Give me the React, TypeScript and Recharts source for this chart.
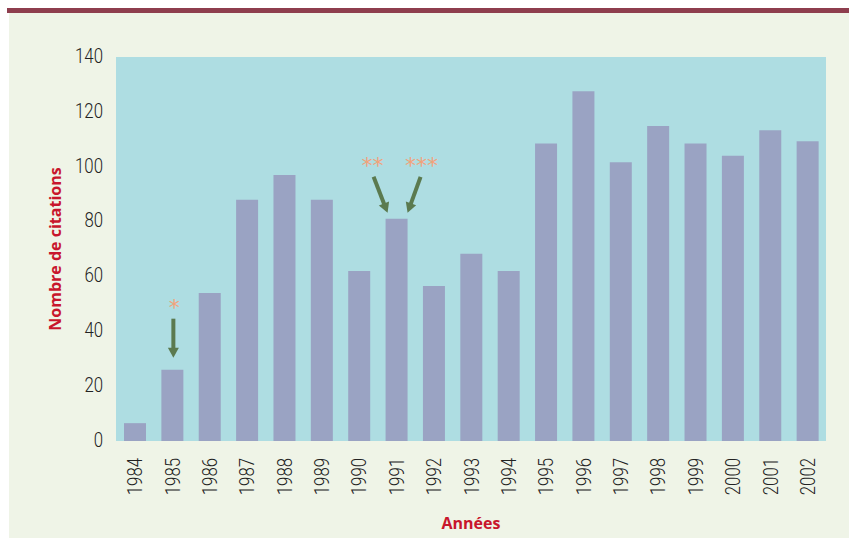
import { BarChart, Bar, XAxis, YAxis, CartesianGrid, LabelList } from "recharts";

const YEARS = [
  "1984", "1985", "1986", "1987", "1988", "1989", "1990", "1991", "1992", "1993",
  "1994", "1995", "1996", "1997", "1998", "1999", "2000", "2001", "2002",
];
const CITATIONS = [
  6.5, 26, 54, 88, 97, 88, 62, 81, 56.5, 68.3,
  62, 108.5, 127.5, 101.6, 114.8, 108.5, 104, 113.3, 109.3,
];
const Y_TICKS = [0, 20, 40, 60, 80, 100, 120, 140];

// annotated years: star marks with arrows pointing at the bar
const NOTES = [
  { year: "1985", stars: ["*"] },
  { year: "1991", stars: ["**", "***"] },
];

const data = YEARS.map((year, i) => ({ year, value: CITATIONS[i] }));

const BG = "#eff4e7";
const PLOT = "#aedde2";
const BAR = "#9aa3c3";
const RED = "#c8162c";
const GREEN = "#5b7a4f";
const STAR = "#f2a27a";
const TICK_FONT = "Roboto, sans-serif";

function Arrow({ x1, y1, x2, y2 }: { x1: number; y1: number; x2: number; y2: number }) {
  const len = Math.hypot(x2 - x1, y2 - y1);
  const ux = (x2 - x1) / len;
  const uy = (y2 - y1) / len;
  const head = 10;
  const half = 5.5;
  const bx = x2 - ux * head;
  const by = y2 - uy * head;
  const pts = [
    [x2, y2],
    [bx - uy * half, by + ux * half],
    [bx + uy * half, by - ux * half],
  ].map((p) => p.join(",")).join(" ");
  return (
    <g>
      <line x1={x1} y1={y1} x2={bx + ux} y2={by + uy} stroke={GREEN} strokeWidth={4} />
      <polygon points={pts} fill={GREEN} />
    </g>
  );
}

function NoteMark(props: any) {
  const { x, y, width, value } = props;
  const note = NOTES.find((n) => n.year === value);
  if (!note) return null;
  const cx = Number(x) + Number(width) / 2;
  const top = Number(y);
  const starStyle = { fill: STAR, fontSize: 22, fontFamily: "DejaVu Sans" };
  if (note.stars.length === 1) {
    return (
      <g>
        <text x={cx + 2} y={top - 55} textAnchor="middle" style={starStyle}>{note.stars[0]}</text>
        <Arrow x1={cx + 1} y1={top - 51} x2={cx + 1} y2={top - 12} />
      </g>
    );
  }
  return (
    <g>
      <text x={cx - 24} y={top - 46} textAnchor="middle" style={starStyle}>{note.stars[0]}</text>
      <text x={cx + 25} y={top - 46} textAnchor="middle" style={starStyle}>{note.stars[1]}</text>
      <Arrow x1={cx - 23} y1={top - 42} x2={cx - 9} y2={top - 6} />
      <Arrow x1={cx + 24} y1={top - 42} x2={cx + 11} y2={top - 6} />
    </g>
  );
}

// condensed look: light Roboto squeezed horizontally
function YearTick(props: any) {
  const { x, payload } = props;
  return (
    <g transform={`translate(${x},458)`}>
      <text transform="rotate(-90) scale(0.8,1)" textAnchor="end" dy="0.36em" fill="#222" fontSize={21} fontWeight={300} fontFamily={TICK_FONT}>
        {payload.value}
      </text>
    </g>
  );
}

function CountTick(props: any) {
  const { y, payload } = props;
  return (
    <g transform={`translate(103,${y})`}>
      <text transform="scale(0.8,1)" textAnchor="end" dy="0.28em" fill="#222" fontSize={21} fontWeight={300} fontFamily={TICK_FONT}>
        {payload.value}
      </text>
    </g>
  );
}

export default function App() {
  return (
    <div style={{ position: "absolute", left: 0, top: 0, width: 849, height: 539, background: "#fff" }}>
      <div style={{ position: "absolute", left: 7, top: 8, width: 842, height: 5, background: "#8e3e4e" }} />
      <div style={{ position: "absolute", left: 9, top: 13, width: 840, height: 525, background: BG }} />
      <div style={{ position: "absolute", left: 0, top: 0 }}>
        <BarChart width={849} height={539} data={data} margin={{ top: 57, right: 23, bottom: 0, left: 0 }} barSize={22}>
          <CartesianGrid fill={PLOT} stroke="none" horizontal={false} vertical={false} />
          <XAxis
            dataKey="year"
            height={98}
            axisLine={false}
            tickLine={false}
            interval={0}
            tick={<YearTick />}
            label={{ value: "Années", position: "insideBottom", offset: 10, fill: RED, fontSize: 16, fontWeight: 700, fontFamily: "'Open Sans', sans-serif" }}
          />
          <YAxis
            width={116}
            domain={[0, 140]}
            ticks={Y_TICKS}
            axisLine={false}
            tickLine={false}
            tick={<CountTick />}
            label={{ value: "Nombre de citations", angle: -90, position: "insideLeft", offset: 55, fill: RED, fontSize: 16, fontWeight: 700, fontFamily: "'Open Sans', sans-serif", style: { textAnchor: "middle" } }}
          />
          <Bar dataKey="value" fill={BAR} isAnimationActive={false}>
            <LabelList dataKey="year" content={<NoteMark />} />
          </Bar>
        </BarChart>
      </div>
    </div>
  );
}
